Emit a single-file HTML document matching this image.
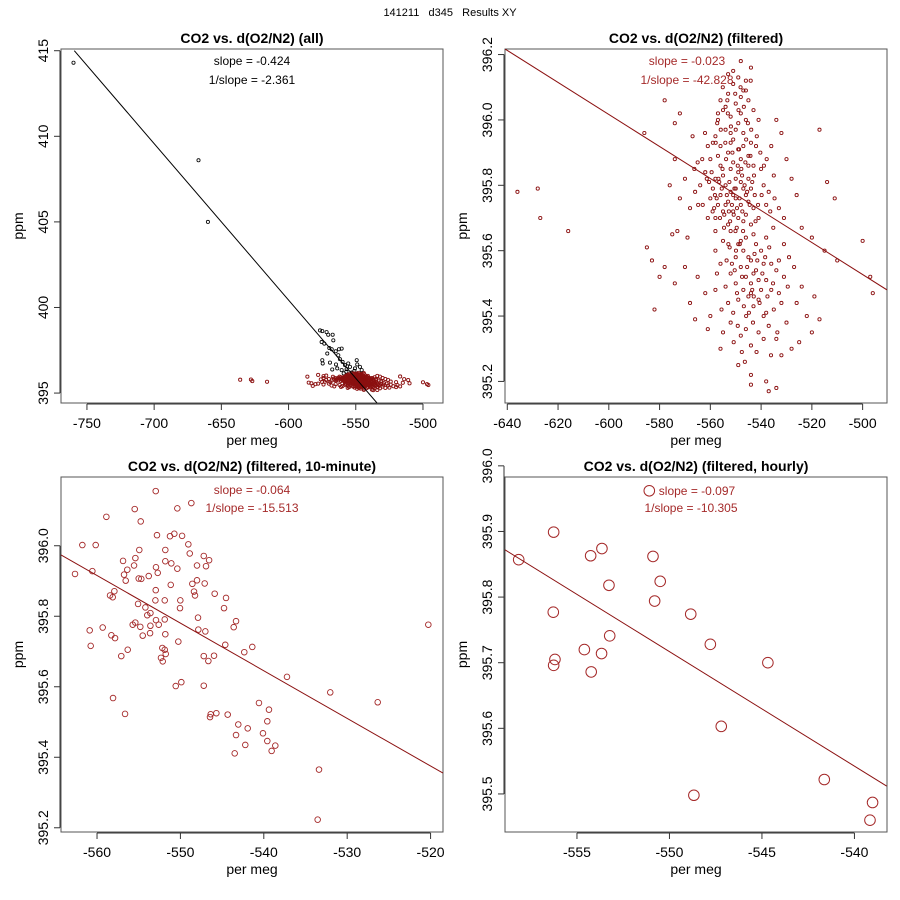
<!DOCTYPE html>
<html><head><meta charset="utf-8"><title>141211 d345 Results XY</title>
<style>
html,body{margin:0;padding:0;background:#fff;}
svg{display:block;font-family:"Liberation Sans",Arial,sans-serif;}
</style></head>
<body>
<svg id="chart" width="900" height="900" viewBox="0 0 900 900" xmlns="http://www.w3.org/2000/svg">
<text x="450" y="16" font-size="11" text-anchor="middle" style="white-space:pre" xml:space="preserve">141211   d345   Results XY</text>
</svg>
<script>
// ---- Panel 1 (all) black (unfiltered) points ----
const allBlackX=[-760,-667,-660,-576.6,-574.9,-571.7,-570.5,-567.2,-566.7,-575.4,-573.4,-569.7,-567.9,-564.9,-562.5,-560.5,-571.2,-563.0,-561.8,-574.9,-569.2,-574.6,-564.7,-559.8,-558.0,-555.6,-554.3,-549.3,-548.9,-546.9,-550.6,-567.5,-563.8,-560.5,-556.8,-545.6,-553,-551,-557,-559];
const allBlackY=[414.3,408.6,405.0,398.66,398.62,398.56,398.41,398.41,398.08,397.98,397.89,397.63,397.56,397.44,397.56,397.60,397.31,397.21,396.98,396.92,396.78,396.73,396.67,396.82,396.63,396.73,396.53,396.92,396.67,396.53,396.44,396.38,396.44,396.34,396.40,396.34,396.2,396.3,396.25,396.15];
// ---- Filtered points (panels 1 and 2) ----
const filtX=[-552,-550,-548,-554,-556,-551,-549,-553,-547,-545,-557,-559,-546,-544,-543,-558,-560,-555,-552,-550,
-548,-553,-556,-558,-554,-551,-549,-547,-545,-544,-560,-562,-561,-557,-555,-552,-550,-548,-546,-553,
-551,-549,-547,-545,-543,-541,-542,-540,-539,-538,-541,-543,-546,-549,-552,-555,-558,-561,-563,-564,
-566,-568,-565,-567,-570,-572,-574,-576,-573,-569,-537,-535,-533,-531,-536,-534,-532,-530,-528,-526,
-554,-550,-548,-546,-544,-556,-558,-553,-551,-549,-555,-547,-545,-543,-557,-559,-552,-550,-548,-554,
-556,-546,-544,-548,-551,-553,
-548,-546,-544,-542,-540,-545,-543,-541,-538,-536,-550,-552,-554,-556,-558,-547,-549,-551,-553,-539,
-537,-535,-533,-531,-529,-527,-534,-530,-546,-544,-548,-552,-556,-560,-562,-565,-568,-570,-574,-542,
-540,-538,-544,-550,-547,-545,-543,-541,-539,-536,-533,-526,-524,-522,-520,-517,-519,-525,-528,-532,
-549,-544,-538,-544,-534,-537,-555,-558,-561,-566,
-636,-628,-627,-616,-580,-583,-585,-578,-582,-575,-586,-578,-574,-572,-517,-514,-511,-510,-500,-497,-496,-520,-524,-515,
-550.5,-551.5,-552.5,-553.5,-549.5,-548.5,-547.5,-546.5,-554.5,-555.5,-556.5,-557.5,-545.5,-544.5,-543.5,-542.5,-558.5,-559.5,-552.2,-550.8,
-549.2,-547.8,-546.2,-553.8,-555.2,-556.8,-548.7,-551.3,-554.1,-545.9,-544.2,-542.8,-557.9,-560.5,-550.1,-552.9,-547.1,-549.9,-551.9,-553.1,
-555.9,-557.3,-548.9,-546.8,-545.2,-543.9,-541.7,-540.3,-538.9,-539.8,-541.2,-542.2,-547.4,-549.6,-552.7,-554.6,-556.2,-558.2,-559.1,-561.4,
-563.2,-564.8,-562.1,-566.3,-536.4,-534.7,-537.8,-535.2,-550.2,-548.1,-546.0,-544.1,-553.3,-555.1,-557.0,-549.0,-551.0,-547.0,-545.0,-552.0,
-547.5,-545.5,-543.5,-541.5,-539.5,-537.5,-549.5,-551.5,-546.8,-544.8,-542.6,-540.6,-538.4,-548.4,-550.4,-552.4,-535.3,-536.8,-534.0,-532.0,
-545.9,-543.2,-541.0,-539.0,-547.6,-549.2,-553.6,-555.6,-557.4,-531.0,-529.5,-536.1,-541.8,-546.4,-550.8,-542.9,-538.0,-533.6,-548.0,-544.0];
const filtY=[395.78,395.76,395.74,395.80,395.77,395.72,395.70,395.68,395.79,395.75,395.74,395.79,395.71,395.68,395.73,395.70,395.76,395.83,395.85,395.82,
395.88,395.90,395.92,395.95,395.97,395.94,395.91,395.96,395.89,395.93,395.88,395.84,395.92,396.00,396.03,396.01,396.05,396.02,396.00,396.08,
396.11,396.13,396.09,396.06,396.03,396.00,395.92,395.85,395.80,395.74,395.70,395.65,395.64,395.62,395.66,395.63,395.66,395.70,395.74,395.80,
395.78,395.73,395.87,395.95,395.82,395.76,395.88,395.80,395.66,395.64,395.78,395.83,395.73,395.70,395.92,396.00,395.96,395.88,395.82,395.77,
395.74,395.79,395.81,395.77,395.79,395.86,395.82,395.75,395.77,395.84,395.72,395.69,395.82,395.86,395.89,395.93,395.93,395.97,396.07,396.04,
396.06,396.12,396.16,396.18,396.15,396.14,
395.55,395.52,395.50,395.54,395.48,395.46,395.43,395.45,395.51,395.56,395.58,395.53,395.49,395.56,395.60,395.60,395.45,395.41,395.44,395.40,
395.37,395.42,395.47,395.52,395.58,395.55,395.33,395.38,395.36,395.31,395.34,395.38,395.30,395.40,395.47,395.52,395.44,395.55,395.50,395.62,
395.60,395.64,395.57,395.50,395.48,395.58,395.53,395.51,395.56,395.48,395.57,395.44,395.49,395.40,395.35,395.39,395.46,395.32,395.30,395.28,
395.25,395.22,395.20,395.19,395.18,395.17,395.35,395.48,395.36,395.39,
395.78,395.79,395.70,395.66,395.52,395.57,395.61,395.55,395.42,395.65,395.96,396.06,395.99,396.02,395.97,395.81,395.76,395.57,395.63,395.52,395.47,395.64,395.67,395.60,
395.79,395.74,395.81,395.77,395.73,395.76,395.83,395.80,395.71,395.79,395.81,395.76,395.78,395.74,395.81,395.77,395.73,395.84,395.69,395.71,
395.86,395.85,395.87,395.88,395.85,395.82,395.91,395.90,395.93,395.94,395.89,395.83,395.93,395.81,395.66,395.62,395.66,395.60,395.98,396.02,
395.97,395.99,396.03,396.04,395.99,395.97,395.95,395.90,395.86,395.77,395.74,395.69,395.72,395.67,395.72,395.67,395.70,395.77,395.72,395.82,
395.88,395.74,395.96,395.85,395.72,395.76,395.88,395.67,396.08,396.10,396.09,396.12,396.06,396.10,396.02,395.99,395.87,395.92,395.86,395.96,
395.52,395.55,395.48,395.57,395.53,395.46,395.47,395.56,395.43,395.41,395.59,395.44,395.58,395.62,395.54,395.61,395.50,395.61,395.54,395.44,
395.40,395.38,395.35,395.33,395.29,395.37,395.57,395.42,395.53,395.62,395.49,395.28,395.29,395.26,395.32,395.46,395.41,395.35,395.63,395.47];
// ---- 10-minute points ----
const tenX=[-552.96,-555.48,-558.88,-554.76,-550.37,-548.69,-561.76,-560.16,-552.81,-551.25,-550.73,-549.8,-549.05,-554.93,-551.81,-548.88,-547.2,-546.56,-556.88,-555.4,
-551.81,-551.09,-555.56,-552.93,-550.37,-548.01,-546.93,-556.37,-552.72,-556.76,-555.0,-554.69,-553.8,-560.56,-562.64,-556.56,-551.16,-548.57,-548.01,-547.09,
-552.96,-548.37,-548.25,-545.89,-544.53,-557.92,-558.44,-558.12,-553.0,-551.88,-550.01,-555.08,-554.2,-550.05,-544.77,-553.6,-553.97,-552.93,-551.88,-552.6,
-553.6,-547.89,-543.33,-543.61,-555.72,-555.41,-554.81,-559.32,-560.88,-558.28,-557.84,-554.52,-553.64,-551.81,-547.85,-547.01,-550.25,-544.62,-541.38,-542.34,
-560.76,-556.32,-557.09,-552.17,-551.88,-551.76,-552.33,-552.12,-547.2,-545.97,-546.65,-549.89,-550.56,-547.2,-558.08,-556.64,-546.45,-545.69,-546.37,-544.33,
-543.06,-541.93,-520.27,-537.22,-532.03,-526.34,-540.58,-539.38,-539.58,-543.33,-540.1,-539.58,-538.62,-542.22,-539.06,-543.49,-533.38,-533.54];
const tenY=[396.155,396.104,396.082,396.069,396.106,396.121,396.002,396.002,396.030,396.027,396.034,396.028,396.004,395.988,395.988,395.978,395.971,395.959,395.957,395.965,
395.956,395.950,395.944,395.939,395.935,395.944,395.942,395.932,395.923,395.918,395.907,395.906,395.914,395.928,395.920,395.901,395.889,395.892,395.902,395.893,
395.874,395.870,395.859,395.864,395.852,395.871,395.859,395.854,395.845,395.845,395.845,395.835,395.825,395.823,395.823,395.809,395.803,395.789,395.791,395.776,
395.773,395.796,395.786,395.769,395.776,395.782,395.770,395.768,395.760,395.746,395.738,395.745,395.752,395.749,395.762,395.757,395.728,395.719,395.713,395.698,
395.716,395.705,395.687,395.710,395.705,395.693,395.682,395.672,395.687,395.688,395.673,395.613,395.602,395.603,395.568,395.523,395.514,395.525,395.522,395.521,
395.493,395.482,395.776,395.628,395.584,395.556,395.554,395.535,395.502,395.463,395.468,395.446,395.433,395.435,395.418,395.411,395.365,395.223];
// ---- hourly points ----
const hourX=[-551.09,-556.26,-558.15,-553.65,-554.26,-550.89,-550.5,-553.27,-550.8,-548.85,-556.28,-553.23,-554.6,-553.67,-556.19,-556.26,-554.23,-547.79,-547.2,-544.68,-548.68,-541.63,-539.02,-539.16];
const hourY=[395.962,395.899,395.857,395.874,395.863,395.862,395.824,395.818,395.794,395.774,395.777,395.741,395.720,395.714,395.705,395.696,395.686,395.728,395.603,395.700,395.498,395.522,395.487,395.460];
// ---- regression line endpoints (data units) ----
const fitAllX=[-759.4,-534.2], fitAllY=[415.0,394.42];
const fitFiltX=[-640.9,-490.4], fitFiltY=[396.217,395.48];
const fitTenX=[-564.32,-518.51], fitTenY=[395.974,395.355];
const fitHourX=[-558.89,-538.26], fitHourY=[395.872,395.512];
// ---- ticks ----
const ticksX1=[-750,-700,-650,-600,-550,-500], ticksY1=[395,400,405,410,415];
const ticksX2=[-640,-620,-600,-580,-560,-540,-520,-500], ticksY2=[395.2,395.4,395.6,395.8,396.0,396.2];
const ticksX3=[-560,-550,-540,-530,-520], ticksY3=[395.2,395.4,395.6,395.8,396.0];
const ticksX4=[-555,-550,-545,-540], ticksY4=[395.5,395.6,395.7,395.8,395.9,396.0];

const NS="http://www.w3.org/2000/svg";
const svg=document.getElementById('chart');
const RED="#8b1010";
function mk(tag,attrs,parent){const e=document.createElementNS(NS,tag);for(const k in attrs)e.setAttribute(k,attrs[k]);(parent||svg).appendChild(e);return e;}

function panel(p){
  const g=mk('g',{});
  
  
  const sx=v=>p.L+(v-p.x0)/(p.x1-p.x0)*(p.R-p.L);
  const sy=v=>p.B-(v-p.y0)/(p.y1-p.y0)*(p.B-p.T);
  const cx=(p.L+p.R)/2, cy=(p.T+p.B)/2;
  const t=mk('text',{x:cx,y:p.T-6,'font-size':14,'font-weight':'bold','text-anchor':'middle'},g);
  t.textContent=p.title;
  
  
  const xa=mk('g',{},g);
  
  
  const ay=p.B+1;
  mk('line',{x1:sx(p.tx[0]),x2:sx(p.tx[p.tx.length-1]),y1:ay,y2:ay,stroke:'#333'},xa);
  p.tx.forEach(v=>{
    mk('line',{x1:sx(v),x2:sx(v),y1:ay,y2:ay+6,stroke:'#333'},xa);
    const l=mk('text',{x:sx(v),y:p.B+25,'font-size':14,'text-anchor':'middle'},xa);
    l.textContent=String(v);
    
    
  });
  const xl=mk('text',{x:cx,y:p.B+42,'font-size':14,'text-anchor':'middle'},g);
  xl.textContent='per meg';
  
  
  const ya=mk('g',{},g);
  
  
  const ax=p.L-1;
  mk('line',{x1:ax,x2:ax,y1:sy(p.ty[0]),y2:sy(p.ty[p.ty.length-1]),stroke:'#333'},ya);
  p.ty.forEach(v=>{
    mk('line',{x1:ax-6,x2:ax,y1:sy(v),y2:sy(v),stroke:'#333'},ya);
    const l=mk('text',{x:0,y:0,'font-size':14,'text-anchor':'middle',transform:`translate(${p.L-13},${sy(v)}) rotate(-90)`},ya);
    l.textContent=p.fmt(v);
    
    
  });
  const yl=mk('text',{x:0,y:0,'font-size':14,'text-anchor':'middle',transform:`translate(${p.L-38},${cy}) rotate(-90)`},g);
  yl.textContent='ppm';
  
  
  const bx=mk('rect',{x:p.L,y:p.T,width:p.R-p.L,height:p.B-p.T,fill:'none',stroke:'#555','stroke-width':1},g);
  
  
  const cid='clip-'+p.name;
  const cp=mk('clipPath',{id:cid},g);
  mk('rect',{x:p.L,y:p.T,width:p.R-p.L,height:p.B-p.T},cp);
  const pg=mk('g',{'clip-path':`url(#${cid})`},g);
  
  
  p.series.forEach(s=>{
    s.xs.forEach((xv,i)=>{
      const c=mk('circle',{cx:sx(xv),cy:sy(s.ys[i]),r:s.r,fill:'none',stroke:s.color,'stroke-width':s.sw},pg);
      
      
    });
  });
  const fl=mk('line',{x1:sx(p.fx[0]),y1:sy(p.fy[0]),x2:sx(p.fx[1]),y2:sy(p.fy[1]),stroke:p.lineColor,'stroke-width':1},pg);
  
  
  p.notes.forEach((n,i)=>{
    const tx=mk('text',{x:n.x,y:n.y,'font-size':12,fill:p.textColor,'text-anchor':'middle'},g);
    tx.textContent=n.s;
    
    
  });
}

panel({name:'panel-all',title:'CO2 vs. d(O2/N2) (all)',L:61,R:443,T:49,B:403,x0:-769.3,x1:-485.1,y0:394.42,y1:415.1,
  tx:ticksX1,ty:ticksY1,fmt:v=>String(v),fx:fitAllX,fy:fitAllY,lineColor:'#000',textColor:'#000',
  series:[{xs:allBlackX,ys:allBlackY,r:1.6,sw:0.8,color:'#000'},{xs:filtX,ys:filtY,r:1.6,sw:0.9,color:RED}],
  notes:[{x:252,y:65,s:'slope = -0.424'},{x:252,y:84,s:'1/slope = -2.361'}]});
panel({name:'panel-filtered',title:'CO2 vs. d(O2/N2) (filtered)',L:505,R:887,T:49,B:403,x0:-640.9,x1:-490.4,y0:395.134,y1:396.217,
  tx:ticksX2,ty:ticksY2,fmt:v=>v.toFixed(1),fx:fitFiltX,fy:fitFiltY,lineColor:RED,textColor:'#a52a2a',
  series:[{xs:filtX,ys:filtY,r:1.6,sw:0.9,color:RED}],
  notes:[{x:687,y:65,s:'slope = -0.023'},{x:687,y:84,s:'1/slope = -42.828'}]});
panel({name:'panel-10-minute',title:'CO2 vs. d(O2/N2) (filtered, 10-minute)',L:61,R:443,T:477,B:832,x0:-564.32,x1:-518.51,y0:395.188,y1:396.195,
  tx:ticksX3,ty:ticksY3,fmt:v=>v.toFixed(1),fx:fitTenX,fy:fitTenY,lineColor:RED,textColor:'#a52a2a',
  series:[{xs:tenX,ys:tenY,r:2.8,sw:0.9,color:'#a52a2a'}],
  notes:[{x:252,y:494,s:'slope = -0.064'},{x:252,y:512,s:'1/slope = -15.513'}]});
panel({name:'panel-hourly',title:'CO2 vs. d(O2/N2) (filtered, hourly)',L:505,R:887,T:477,B:832,x0:-558.89,x1:-538.24,y0:395.442,y1:395.983,
  tx:ticksX4,ty:ticksY4,fmt:v=>v.toFixed(1),fx:fitHourX,fy:fitHourY,lineColor:RED,textColor:'#a52a2a',
  series:[{xs:hourX,ys:hourY,r:5.3,sw:1,color:'#a52a2a'}],
  notes:[{x:697,y:495,s:'slope = -0.097'},{x:691,y:512,s:'1/slope = -10.305'}]});
</script>
</body></html>
